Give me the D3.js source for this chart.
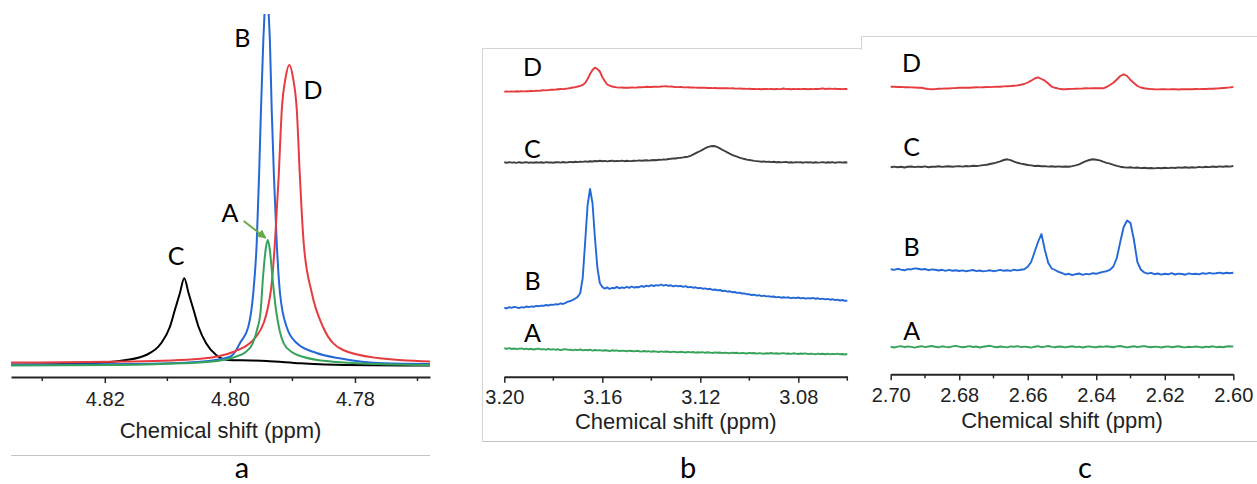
<!DOCTYPE html>
<html>
<head>
<meta charset="utf-8">
<script src="https://cdn.jsdelivr.net/npm/d3@7"></script>
<style>
  body { margin: 0; background: #fff; }
  svg { display: block; }
  .axis path, .axis line, .minor { stroke: #262626; }
  .axis path { stroke-width: 2; }
  .axis line, .minor { stroke-width: 1.5; }
  .axis text { font-family: "Liberation Sans", Arial, sans-serif; font-size: 20px; fill: #222; }
  .axis-title { font-family: "Liberation Sans", Arial, sans-serif; font-size: 22px; fill: #222; text-anchor: middle; }
  .trace-label { font-family: Lato, "Open Sans", sans-serif; font-size: 25px; fill: #000; text-anchor: middle; }
  .panel-label { font-family: Lato, "Open Sans", sans-serif; font-size: 29px; fill: #000; text-anchor: middle; }
  .frame { stroke: #d4d4d4; stroke-width: 1; fill: none; }
</style>
</head>
<body>
<svg id="chart" width="1257" height="484"></svg>
<script>
/* ---------- data ---------- */

var sampleNames = ["A", "B", "C", "D"];
var sampleColors = { A: "#37a35a", B: "#2468d8", C: "#3f3f3f", D: "#e63c3f" };

// panel a: water peak region, [ppm, intensity]
var aSampleC = [[4.835,1.3],[4.8233,2.5],[4.8166,6],[4.8134,11],[4.8110,22.7],[4.8096,39],[4.8088,56],[4.8080,72.7],
  [4.8073,87.7],[4.8066,72.7],[4.8058,56],[4.8050,39],[4.8038,22.7],[4.8022,11],[4.8003,6],[4.7967,5.5],[4.7942,5],
  [4.7887,2.7],[4.7817,1],[4.768,0.5]];
var aSampleB = [[4.835,1.5],[4.8154,2],[4.80478,4.3],[4.79998,9.3],[4.79918,14],[4.79838,23],[4.79706,39],[4.79626,73],
  [4.79571,123],[4.79534,189],[4.79503,256],[4.79467,323],[4.79442,360],[4.79413,430],[4.79384,360],[4.79359,323],
  [4.79331,256],[4.79295,189],[4.79251,123],[4.79199,73],[4.79092,39],[4.78932,23],[4.78614,13],[4.78246,7.7],
  [4.77542,2.7],[4.768,2]];
var aSampleD = [[4.835,3.5],[4.8154,4.5],[4.8047,7.2],[4.7995,14],[4.7956,31],[4.7935,73],[4.7928,123],[4.7922,189],
  [4.7917,256],[4.7911,288],[4.7905,301],[4.7899,288],[4.7893,256],[4.7888,189],[4.7882,123],[4.7869,73],[4.7851,39],
  [4.7819,16],[4.7764,8],[4.768,4.5]];
var aSampleA = [[4.835,0.5],[4.81794,1],[4.80754,2.7],[4.80195,5],[4.79907,9.3],[4.79747,14],[4.79635,22.7],[4.79571,35],
  [4.79507,56],[4.79470,89],[4.79427,117],[4.79395,126],[4.79363,117],[4.79320,89],[4.79262,56],[4.79203,35],
  [4.79139,22.7],[4.79011,14],[4.78835,9.3],[4.78356,4.3],[4.77636,2],[4.768,1]];

// panel b: 3.200 -> 3.060 ppm, one value every 0.001 ppm
var bSampleD = [-1.7,-1.5,-1.6,-1.4,-1.6,-1.3,-1.5,-1.2,-1.4,-1.3,
  -1.2,-1.0,-1.1,-0.8,-0.9,-0.5,-0.2,-0.4,-0.1,0.2,
  0.3,0.5,0.8,1.0,0.9,1.3,1.6,2.0,2.5,2.9,
  3.5,4.2,5.0,7.0,11,16,20,22.3,21,18.5,
  13,9,5.5,4.3,3.5,3,2.6,2.4,2.5,2.3,
  2.3,2.2,2.6,2.4,2.5,2.8,2.7,2.9,3.3,3.0,
  3.0,3.2,3.4,3.1,3.5,3.6,3.7,3.4,3.5,3.2,
  3.0,2.9,3.1,2.8,2.6,2.7,2.5,2.6,2.4,2.3,
  2.3,2.4,2.2,2.0,2.1,1.9,2.0,1.8,1.9,1.7,
  1.8,1.7,1.6,1.7,1.5,1.4,1.6,1.2,1.3,1.1,
  1.2,1.0,1.1,0.9,1.0,0.8,1.0,1.0,0.9,1.1,
  0.8,1.0,0.9,1.0,1.5,0.9,1.0,0.8,1.0,0.9,
  1.0,0.9,1.1,1.0,0.8,1.0,0.9,1.1,1.0,1.2,
  1.6,1.0,1.2,1.3,1.1,1.2,1.0,1.1,0.9,1.0,
  1.0];
var bSampleC = [0.7,0.2,0.9,0.4,0.6,0.1,0.8,0.3,0.5,0.9,
  0.2,0.6,0.3,0.8,0.4,0.7,0.2,0.9,0.5,0.6,
  0.3,0.8,0.7,0.4,1.0,0.5,0.7,1.1,0.8,1.2,
  0.9,1.4,1.1,1.6,1.3,1.8,1.5,2.0,1.7,2.2,
  1.8,2.1,1.6,2.0,2.3,1.7,2.1,1.9,2.4,1.8,
  2.2,1.9,2.0,2.3,2.1,2.6,2.2,2.5,2.8,2.4,
  2.7,3.0,2.8,3.3,3.1,3.6,3.4,4.0,4.2,4.6,
  4.5,5.1,5.3,5.6,6.0,6.3,7.2,8.3,9.6,10.8,
  12.0,13.4,14.8,15.9,16.6,17.0,16.8,15.9,14.6,13.2,
  12.0,10.7,9.4,8.2,7.1,6.3,5.4,4.6,4.0,3.4,
  3.0,2.6,2.1,1.9,1.6,1.3,1.5,1.1,1.3,0.9,
  1.2,0.7,1.0,0.6,0.9,1.1,0.5,0.8,0.4,0.9,
  0.6,0.7,0.3,0.9,0.5,0.8,0.2,0.7,0.4,0.6,
  0.9,0.3,0.7,0.5,0.8,0.2,0.6,0.9,0.4,0.7,
  0.5];
var bSampleB = [0.3,-0.5,0.8,0.2,1.1,0.6,-0.1,0.9,0.4,1.5,
  0.9,1.6,1.2,2.1,1.7,2.4,2.2,3.0,2.5,3.4,
  3.1,3.8,3.5,4.6,4.0,5.2,6.3,7.0,8.1,9.5,
  11.3,15,30,66,103,119,105,70,40,25,
  21,19.4,20.6,19.0,20.1,19.8,21.1,19.6,20.7,20.0,
  21.2,20.1,21.5,20.4,21.0,20.8,22.0,21.1,22.3,21.6,
  22.8,22.0,22.9,22.4,23.5,22.3,23.1,22.2,22.7,21.6,
  22.4,21.7,22.1,21.2,21.8,20.6,21.1,20.3,20.7,19.8,
  20.1,19.3,19.6,18.8,19.2,18.1,18.5,17.6,18.0,17.0,
  17.3,16.4,16.7,15.8,16.0,15.1,15.3,14.5,14.6,13.8,
  13.7,13.0,13.3,12.4,12.9,11.9,12.4,11.6,11.8,11.2,
  11.5,10.6,11.1,10.3,10.8,10.4,10.7,9.8,10.4,9.9,
  10.5,9.6,10.2,9.4,9.9,9.5,10.1,9.2,9.7,8.9,
  9.4,8.6,9.1,8.3,8.8,7.8,8.4,7.5,8.0,7.2,
  7.3];
var bSampleA = [1.7,1.2,1.9,1.0,1.5,0.8,1.4,1.6,0.9,1.3,
  0.7,1.2,0.5,1.0,1.4,0.6,0.9,0.3,1.1,0.4,
  0.8,0.2,0.7,-0.1,0.5,0.9,0.1,0.4,-0.3,0.3,
  -0.1,0.5,-0.4,0.1,-0.2,0.3,-0.6,0.0,-0.4,-0.1,
  -0.7,-0.2,-0.5,-1.0,-0.3,-0.8,-0.4,-1.1,-0.6,-0.9,
  -1.3,-0.7,-1.0,-1.4,-0.8,-1.2,-1.6,-1.0,-1.5,-1.1,
  -1.8,-1.3,-1.6,-2.0,-1.4,-1.9,-1.5,-1.7,-2.2,-1.6,
  -2.0,-2.3,-1.8,-2.1,-2.5,-1.9,-2.4,-2.0,-2.7,-2.2,
  -2.5,-2.1,-2.8,-2.3,-2.6,-3.0,-2.4,-2.8,-2.5,-3.1,
  -2.7,-2.9,-3.3,-2.6,-3.0,-2.8,-3.4,-2.9,-3.2,-3.5,
  -2.9,-3.3,-3.0,-3.6,-3.1,-3.4,-3.7,-3.2,-3.5,-3.0,
  -3.6,-3.3,-3.8,-3.4,-3.1,-3.7,-3.5,-3.9,-3.3,-3.6,
  -4.0,-3.5,-3.8,-3.4,-4.1,-3.7,-3.9,-4.3,-3.6,-4.0,
  -3.8,-4.2,-3.7,-4.4,-3.9,-4.1,-3.6,-4.3,-4.0,-4.5,
  -4.0];

// panel c: 2.700 -> 2.600 ppm, one value every 0.001 ppm
var cSampleD = [1.3,1.2,1.0,1.1,0.8,0.9,0.6,0.5,0.3,0.2,
  -0.5,-1.0,-1.3,-1.1,-0.8,-0.6,-0.4,-0.5,-0.1,0.0,
  0.2,0.4,0.2,0.3,0.5,0.7,0.6,0.8,1.0,0.9,
  1.1,1.2,1.3,1.6,1.8,2.0,2.3,2.6,3.2,4.0,
  5.5,7.3,9.5,10.7,9.0,7.3,4.5,1.3,0.2,-0.6,
  -1.3,-1.2,-1.0,-0.9,-0.7,-0.6,-0.5,-0.3,-0.4,-0.2,
  -0.3,-0.2,-0.3,1.0,3.0,5.2,8.5,12.0,13.7,12.0,
  8.0,5.0,2.0,0.5,-0.3,-0.8,-1.1,-1.3,-1.4,-1.2,
  -1.3,-1.4,-1.2,-1.3,-1.5,-1.2,-1.3,-1.1,-1.2,-1.0,
  -1.1,-0.9,-1.0,-0.8,-0.7,-0.5,-0.3,0.0,0.3,0.6,
  1.0];
var cSampleC = [-0.3,0.4,-0.2,0.3,-0.5,0.2,0.5,-0.1,0.4,0.0,
  0.6,-0.2,0.3,0.3,0.7,0.1,0.5,0.8,0.2,0.6,
  0.9,0.4,1.0,0.6,1.2,1.0,1.4,1.9,2.3,3.0,
  3.7,4.6,5.6,7.0,7.7,6.8,5.4,4.2,3.4,2.7,
  2.0,1.6,1.0,1.2,0.7,0.9,0.4,0.8,0.3,0.6,
  0.2,0.5,0.3,0.9,1.6,2.6,4.3,5.8,7.0,7.7,
  7.3,6.6,5.3,4.2,3.3,2.2,1.2,0.3,-0.2,-0.6,
  -0.3,-0.9,-0.5,-1.1,-0.8,-1.3,-1.0,-1.4,-0.9,-1.2,
  -0.7,-1.1,-0.6,-1.0,-0.4,-0.8,-0.3,-0.7,-0.2,-0.6,
  0.1,-0.4,0.3,-0.1,0.5,0.0,0.6,0.2,0.8,0.4,
  1.0];
var cSampleB = [0.7,0.1,1.2,0.4,-0.3,0.9,0.6,1.6,1.3,0.5,
  1.0,-0.2,0.6,0.3,-0.5,0.2,-0.8,0.1,-0.7,-0.2,
  -1.0,-0.4,-1.3,-0.6,0.0,-1.1,-0.5,-1.4,-0.9,-0.3,
  -1.2,-0.6,0.1,-0.8,-0.2,-0.9,0.3,-0.4,0.2,0.8,
  3.3,8,18,28,36,20,7,1.5,0.0,-1.8,
  -3.0,-4.6,-3.8,-5.1,-4.2,-3.5,-4.8,-3.9,-4.4,-3.2,
  -3.8,-2.7,-1.9,-1.2,0.2,3.5,12,28,43,49.5,
  47,30,8,0.5,-2.4,-3.6,-2.9,-4.2,-3.5,-4.6,
  -3.8,-4.3,-3.2,-4.5,-3.6,-4.0,-4.7,-3.4,-4.1,-3.7,
  -4.4,-3.1,-3.8,-2.9,-3.6,-3.3,-2.6,-3.5,-2.8,-3.2,
  -2.7];
var cSampleA = [0.3,-0.5,0.4,0.9,-0.2,0.6,0.1,-0.6,0.3,0.8,
  -0.1,0.5,1.0,0.2,-0.4,0.7,0.1,-0.3,0.6,1.1,
  0.4,-0.2,0.3,0.9,0.0,0.5,-0.5,0.2,0.8,1.2,
  0.3,-0.3,0.5,0.1,-0.4,0.6,0.2,0.9,-0.1,0.4,
  0.0,-0.6,0.3,0.8,-0.2,0.4,1.0,0.1,-0.3,0.5,
  0.2,-0.4,0.3,0.7,-0.1,0.4,-0.5,0.2,0.6,0.0,
  -0.3,0.5,0.1,0.8,0.3,-0.2,0.6,1.0,0.2,-0.4,
  0.3,0.7,-0.1,0.5,0.9,0.2,-0.3,0.4,0.1,-0.5,
  0.2,0.6,-0.2,0.3,0.8,0.0,-0.4,0.3,-0.1,0.5,
  0.1,-0.5,0.4,0.0,0.7,-0.2,0.3,-0.3,0.5,0.8,
  0.4];

// vertical stacking of the spectra in panels b and c
var bStackOffsets = { A: 10, B: 52, C: 197, D: 270 };
var cStackOffsets = { A: 13, B: 90, C: 193, D: 272 };

// axis ticks
var aMajorTicks = [4.82, 4.80, 4.78];
var aMinorTicks = [4.83, 4.81, 4.79, 4.77];
var bMajorTicks = [3.20, 3.16, 3.12, 3.08];
var bMinorTicks = [3.18, 3.14, 3.10, 3.06];
var cMajorTicks = [2.70, 2.68, 2.66, 2.64, 2.62, 2.60];
var cMinorTicks = [2.69, 2.67, 2.65, 2.63, 2.61];

/* ---------- drawing ---------- */

var svg = d3.select("#chart");
var fmt = d3.format(".2f");

function drawAxis(x, y0, major, minor, pad, titleBaseline) {
  var g = svg.append("g")
    .attr("class", "axis")
    .attr("transform", "translate(0," + y0 + ")")
    .call(d3.axisBottom(x).tickValues(major).tickFormat(fmt)
      .tickSize(6).tickSizeOuter(0).tickPadding(pad));
  g.selectAll(".minor")
    .data(minor)
    .enter().append("line")
    .attr("class", "minor")
    .attr("x1", x).attr("x2", x)
    .attr("y1", 0).attr("y2", 4);
  var r = x.range();
  svg.append("text")
    .attr("class", "axis-title")
    .attr("x", (r[0] + r[1]) / 2)
    .attr("y", titleBaseline)
    .text("Chemical shift (ppm)");
}

function drawLabels(x, y, labels) {
  svg.selectAll(null)
    .data(labels)
    .enter().append("text")
    .attr("class", "trace-label")
    .attr("x", function(d) { return x(d.ppm); })
    .attr("y", function(d) { return y(d.v); })
    .text(function(d) { return d.t; });
}

// panel a
var xA = d3.scaleLinear().domain([4.835, 4.768]).range([11, 430]);
var yA = d3.scaleLinear().domain([0, 350]).range([366, 16]);

svg.append("clipPath").attr("id", "clip-a")
  .append("rect").attr("x", 11).attr("y", 14).attr("width", 419).attr("height", 362);

var lineA = d3.line()
  .x(function(d) { return xA(d[0]); })
  .y(function(d) { return yA(d[1]); })
  .curve(d3.curveMonotoneX);

var aTraces = [
  { name: "C", data: aSampleC, color: "#000" },
  { name: "B", data: aSampleB, color: sampleColors.B },
  { name: "D", data: aSampleD, color: sampleColors.D },
  { name: "A", data: aSampleA, color: sampleColors.A }
];

svg.append("g").attr("clip-path", "url(#clip-a)")
  .selectAll("path")
  .data(aTraces)
  .enter().append("path")
  .attr("d", function(d) { return lineA(d.data); })
  .attr("fill", "none")
  .attr("stroke", function(d) { return d.color; })
  .attr("stroke-width", 2)
  .attr("stroke-linejoin", "round");

drawAxis(xA, 377, aMajorTicks, aMinorTicks, 9, 438);

// arrow pointing at the A peak
var peakA = aSampleA[11];
svg.append("defs").append("marker")
  .attr("id", "arrow-head")
  .attr("viewBox", "0 0 10 10")
  .attr("refX", 9).attr("refY", 5)
  .attr("markerWidth", 4.5).attr("markerHeight", 4.5)
  .attr("orient", "auto")
  .append("path").attr("d", "M0,0L10,5L0,10z").attr("fill", "#6aab48");
svg.append("line")
  .attr("x1", xA(peakA[0]) - 24).attr("y1", yA(peakA[1]) - 19)
  .attr("x2", xA(peakA[0]) - 2).attr("y2", yA(peakA[1]) - 2)
  .attr("stroke", "#6aab48").attr("stroke-width", 2)
  .attr("marker-end", "url(#arrow-head)");

drawLabels(xA, yA, [
  { t: "B", ppm: 4.7980, v: 319 },
  { t: "D", ppm: 4.7867, v: 267 },
  { t: "A", ppm: 4.8000, v: 144 },
  { t: "C", ppm: 4.8086, v: 101 }
]);

// panels b and c share the same stacked layout
function drawStack(x, y, grid, series, offsets) {
  var line = d3.line()
    .x(function(d, i) { return x(grid[i]); })
    .y(function(d) { return y(d); });
  svg.append("g").selectAll("path")
    .data(sampleNames)
    .enter().append("path")
    .attr("d", function(n) {
      return line(series[n].map(function(v) { return v + offsets[n]; }));
    })
    .attr("fill", "none")
    .attr("stroke", function(n) { return sampleColors[n]; })
    .attr("stroke-width", 1.9)
    .attr("stroke-linejoin", "round");
}

var bGrid = d3.range(141).map(function(i) { return 3.2 - i * 0.001; });
var xB = d3.scaleLinear().domain([3.20, 3.06]).range([504.3, 847.3]);
var yB = d3.scaleLinear().domain([0, 300]).range([360, 60]);
drawStack(xB, yB, bGrid, { A: bSampleA, B: bSampleB, C: bSampleC, D: bSampleD }, bStackOffsets);
drawAxis(xB, 376.7, bMajorTicks, bMinorTicks, 7, 429);
drawLabels(xB, yB, [
  { t: "D", ppm: 3.1885, v: 284.3 },
  { t: "C", ppm: 3.1885, v: 202.3 },
  { t: "B", ppm: 3.1885, v: 70.3 },
  { t: "A", ppm: 3.1885, v: 18.3 }
]);

var cGrid = d3.range(101).map(function(i) { return 2.7 - i * 0.001; });
var xC = d3.scaleLinear().domain([2.70, 2.60]).range([890.7, 1233.3]);
var yC = d3.scaleLinear().domain([0, 300]).range([360, 60]);
drawStack(xC, yC, cGrid, { A: cSampleA, B: cSampleB, C: cSampleC, D: cSampleD }, cStackOffsets);
drawAxis(xC, 374.3, cMajorTicks, cMinorTicks, 8, 428);
drawLabels(xC, yC, [
  { t: "D", ppm: 2.6939, v: 288 },
  { t: "C", ppm: 2.6939, v: 204.3 },
  { t: "B", ppm: 2.6939, v: 104.3 },
  { t: "A", ppm: 2.6939, v: 19.6 }
]);

// frames and sub-figure letters
svg.append("line").attr("class", "frame").attr("x1", 11).attr("x2", 430).attr("y1", 455.5).attr("y2", 455.5).style("stroke", "#c4c4c4");
svg.append("path").attr("class", "frame").attr("d", "M482.5,441.5V48.5H861.5");
svg.append("path").attr("class", "frame").attr("d", "M861.5,50V36.5H1257");
svg.append("line").attr("class", "frame").attr("x1", 482).attr("x2", 1257).attr("y1", 441.5).attr("y2", 441.5).style("stroke", "#c4c4c4");

svg.selectAll(".panel-label")
  .data([["a", 242], ["b", 688], ["c", 1085]])
  .enter().append("text")
  .attr("class", "panel-label")
  .attr("x", function(d) { return d[1]; })
  .attr("y", 478)
  .text(function(d) { return d[0]; });
</script>
</body>
</html>
